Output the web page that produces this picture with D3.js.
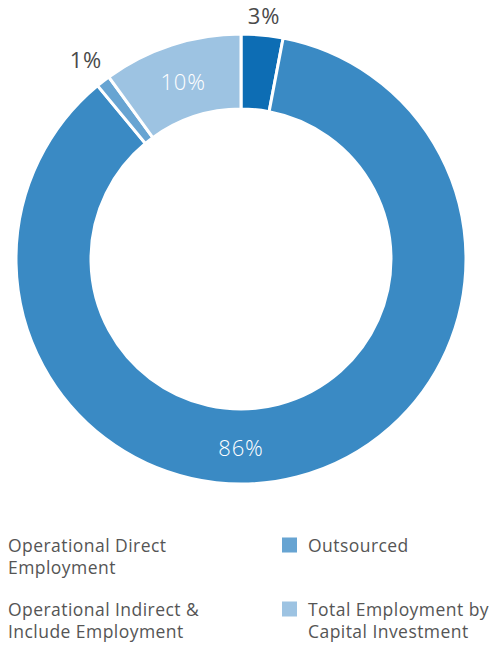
<!DOCTYPE html>
<html>
<head>
<meta charset="utf-8">
<script src="https://cdn.jsdelivr.net/npm/d3@7"></script>
<style>
  html, body { margin: 0; padding: 0; background: #fff; }
  svg { display: block; font-family: "Open Sans", sans-serif; }
</style>
</head>
<body>
<svg id="chart" width="503" height="646"></svg>
<script>
// Employment breakdown, in percent
const categories = [
  "Operational Direct Employment",
  "Operational Indirect & Include Employment",
  "Outsourced",
  "Total Employment by Capital Investment"
];
const values = [3, 86, 1, 10];
const colors = ["#0d6db4", "#3a8ac4", "#67a4d2", "#9dc3e2"];
const legendLines = [
  ["Operational Direct", "Employment"],
  ["Operational Indirect &", "Include Employment"],
  ["Outsourced"],
  ["Total Employment by", "Capital Investment"]
];
const legendSwatch = [false, false, true, true];

const svg = d3.select("#chart");
const cx = 241, cy = 259, outerR = 225, innerR = 150;

const data = categories.map((c, i) => ({ name: c, value: values[i], color: colors[i] }));
const pie = d3.pie().value(d => d.value).sort(null);
const arcs = pie(data);
const arc = d3.arc().innerRadius(innerR).outerRadius(outerR);

const g = svg.append("g").attr("transform", `translate(${cx},${cy})`);

g.selectAll("path.slice")
  .data(arcs)
  .join("path")
  .attr("class", "slice")
  .attr("d", arc)
  .attr("fill", d => d.data.color)
  .attr("stroke", "#fff")
  .attr("stroke-width", 3)
  .attr("stroke-linejoin", "miter");

// Percentage labels: inside the ring for larger slices, outside for small ones
const fs = 22;
arcs.forEach(d => {
  const span = d.endAngle - d.startAngle;
  let a = (d.startAngle + d.endAngle) / 2;
  if (span > Math.PI) a = Math.PI;
  const label = d.data.value + "%";
  const dx = Math.sin(a), dy = -Math.cos(a);
  let x, y, fill, weight;
  if (d.data.value < 5) {
    const w = label.length * fs * 0.9, h = fs * 0.8;
    const ar = outerR + 6;
    const off = Math.abs(dx) * w / 2 + Math.abs(dy) * h / 2 + 3;
    x = dx * (ar + off);
    y = dy * (ar + off);
    fill = "#4a4a4a";
    weight = 400;
  } else {
    const r = (innerR + outerR) / 2;
    x = dx * r; y = dy * r;
    fill = "#fff";
    weight = 300;
  }
  g.append("text")
    .attr("x", x).attr("y", y)
    .attr("text-anchor", "middle")
    .attr("dominant-baseline", "central")
    .attr("font-size", fs)
    .attr("font-weight", weight)
    .attr("letter-spacing", 0.8)
    .attr("fill", fill)
    .text(label);
});

// Legend: two columns, two entries each
const legendCols = [8, 282];
const legendRows = [545, 609];
const lineH = 22;
data.forEach((d, i) => {
  const col = Math.floor(i / 2), row = i % 2;
  const x0 = legendCols[col], y0 = legendRows[row];
  const lg = svg.append("g");
  let tx = x0;
  if (legendSwatch[i]) {
    lg.append("rect")
      .attr("x", x0).attr("y", y0 - 7.5)
      .attr("width", 15).attr("height", 15)
      .attr("fill", d.color);
    tx = x0 + 26;
  }
  legendLines[i].forEach((ln, k) => {
    lg.append("text")
      .attr("x", tx).attr("y", y0 + k * lineH)
      .attr("dominant-baseline", "central")
      .attr("font-size", 17.5)
      .attr("letter-spacing", 0.45)
      .attr("fill", "#555")
      .text(ln);
  });
});
</script>
</body>
</html>
